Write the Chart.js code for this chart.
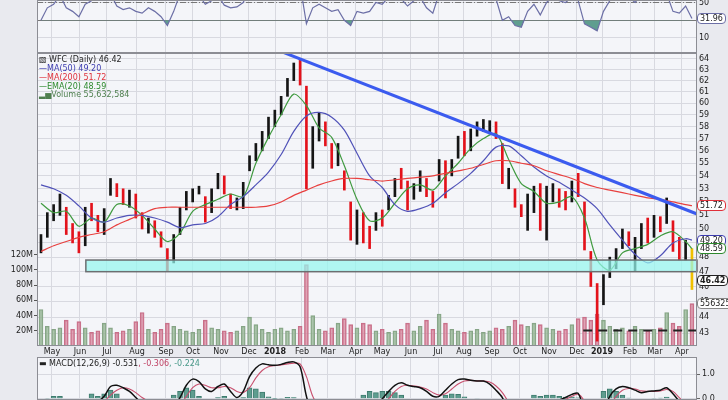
<!DOCTYPE html>
<html>
<head>
<meta charset="utf-8">
<script src="https://cdn.jsdelivr.net/npm/chart.js@4.4.1/dist/chart.umd.min.js"></script>
<style>
  body { margin: 0; width: 728px; height: 400px; overflow: hidden; position: relative;
         background: #e9eaef; font-family: "DejaVu Sans", sans-serif; }
  canvas { position: absolute; left: 0; }
  #rsi { top: 0; }
  #main { top: 53px; }
  #macd { top: 357px; }
  .tag { position: absolute; left: 697px; height: 9px; line-height: 9px; font-size: 8px;
         background: #fff; border: 1px solid #888; border-radius: 4px; padding: 0 2px;
         color: #222; white-space: nowrap; }
  .leg { position: absolute; left: 39px; font-size: 8px; line-height: 9px; white-space: nowrap; }
</style>
</head>
<body>
<canvas id="rsi" width="728" height="53"></canvas>
<canvas id="main" width="728" height="304"></canvas>
<canvas id="macd" width="728" height="43"></canvas>

<div class="leg" style="top:55px;color:#222">&#9639; WFC (Daily) 46.42</div>
<div class="leg" style="top:64px;color:#3c3cb0">&#8212;MA(50) 49.20</div>
<div class="leg" style="top:73px;color:#e0303a">&#8212;MA(200) 51.72</div>
<div class="leg" style="top:82px;color:#2d8a2d">&#8212;EMA(20) 48.59</div>
<div class="leg" style="top:90px;color:#4f7f4f">&#9602;&#9605;Volume 55,632,584</div>
<div class="leg" style="top:359px;color:#222">&#9644; MACD(12,26,9) -0.531<span style="color:#c04466">, -0.306</span><span style="color:#4a9a8a">, -0.224</span></div>

<script>
// --- Data (one entry per week, mid-Apr 2017 .. mid-Apr 2019) ---
const monthLabels = ["May", "Jun", "Jul", "Aug", "Sep", "Oct", "Nov", "Dec", "2018", "Feb", "Mar", "Apr",
  "May", "Jun", "Jul", "Aug", "Sep", "Oct", "Nov", "Dec", "2019", "Feb", "Mar", "Apr"];
const monthWeek = [1.74, 6.17, 10.44, 15.19, 19.78, 24.05, 28.48, 32.91, 37.03, 41.3, 45.41, 49.84,
  53.96, 58.54, 62.82, 66.93, 71.36, 75.79, 80.38, 84.81, 88.77, 93.2, 97.15, 101.42];

const hi = [49.6, 51.2, 51.8, 52.6, 51.6, 50.4, 49.8, 51.6, 51.9, 51.0,
  51.5, 53.8, 53.4, 53.0, 52.9, 52.6, 51.2, 50.8, 50.6, 49.8,
  48.6, 49.6, 51.6, 52.8, 53.0, 53.2, 52.4, 53.0, 54.2, 54.0,
  52.6, 52.3, 53.5, 55.6, 56.6, 57.6, 58.8, 59.4, 60.6, 62.2,
  63.6, 64.0, 61.5, 58.0, 59.2, 58.4, 56.6, 56.6, 54.4, 52.0,
  51.4, 51.2, 50.2, 51.2, 51.4, 52.5, 53.8, 54.6, 53.6, 53.4,
  54.4, 53.8, 52.8, 55.3, 55.2, 55.3, 57.2, 57.6, 57.8, 58.4,
  58.6, 58.5, 58.4, 56.6, 54.6, 53.0, 51.8, 52.6, 53.2, 53.4,
  53.2, 53.4, 53.0, 52.8, 53.6, 54.2, 52.0, 48.4, 46.2, 46.8,
  48.0, 48.6, 50.0, 49.8, 49.4, 50.4, 50.8, 51.0, 50.9, 52.3,
  50.6, 49.4, 49.2, 48.6];
const lo = [48.3, 49.4, 50.6, 51.0, 49.6, 49.0, 48.3, 48.8, 50.6, 49.8,
  49.6, 52.5, 52.4, 51.8, 51.6, 50.8, 50.0, 49.7, 49.4, 48.7,
  47.0, 47.6, 49.6, 51.4, 52.0, 52.6, 50.5, 51.2, 53.0, 52.6,
  51.5, 51.4, 51.5, 54.4, 55.2, 56.0, 57.0, 58.0, 59.0, 60.6,
  62.0, 61.6, 53.0, 54.6, 56.8, 56.4, 54.6, 54.8, 52.9, 49.2,
  48.9, 49.0, 48.6, 49.9, 50.2, 51.4, 52.4, 53.0, 51.4, 52.2,
  52.8, 52.4, 51.6, 53.6, 52.3, 54.0, 55.4, 55.6, 56.0, 57.2,
  57.6, 57.4, 57.0, 53.4, 53.0, 51.6, 50.9, 49.9, 51.2, 49.9,
  49.2, 52.0, 51.6, 51.4, 52.0, 52.4, 48.5, 46.0, 42.5, 44.8,
  46.6, 47.2, 48.6, 48.8, 47.0, 48.6, 49.0, 49.4, 49.8, 50.4,
  48.4, 47.8, 47.8, 45.8];
const cl = [49.4, 51.0, 51.2, 51.6, 50.0, 49.6, 48.8, 51.3, 51.0, 50.2,
  51.3, 53.2, 52.7, 52.2, 52.6, 51.0, 50.3, 50.4, 49.6, 48.9,
  47.4, 49.4, 51.4, 52.6, 52.7, 52.9, 51.0, 52.8, 54.0, 52.8,
  51.8, 52.0, 53.4, 55.4, 56.4, 57.2, 58.4, 58.6, 60.4, 62.0,
  63.0, 62.6, 55.0, 57.6, 57.8, 57.0, 55.0, 55.2, 53.4, 50.0,
  50.6, 49.6, 49.2, 50.8, 50.4, 52.2, 53.6, 53.2, 52.6, 53.0,
  53.8, 52.6, 52.2, 55.0, 54.6, 55.0, 57.0, 56.0, 57.6, 58.0,
  58.2, 58.3, 57.4, 54.0, 54.2, 52.0, 51.4, 52.4, 52.8, 51.0,
  52.4, 53.0, 52.2, 52.0, 53.4, 52.8, 48.8, 46.4, 43.6, 46.6,
  47.4, 48.4, 49.6, 49.0, 49.2, 50.0, 49.8, 50.6, 50.2, 50.6,
  48.6, 48.2, 48.8, 46.42];
// volume in millions
const vol = [48, 26, 22, 24, 34, 22, 32, 24, 18, 20,
  30, 24, 18, 20, 22, 32, 44, 22, 18, 22,
  30, 26, 22, 20, 18, 22, 34, 24, 22, 20,
  18, 20, 26, 38, 28, 22, 18, 22, 24, 20,
  22, 26, 107, 40, 22, 20, 24, 30, 36, 28,
  24, 30, 28, 20, 22, 18, 20, 22, 30, 20,
  26, 34, 22, 42, 30, 22, 20, 18, 20, 22,
  18, 20, 24, 22, 26, 34, 28, 26, 30, 28,
  24, 22, 20, 22, 28, 36, 38, 34, 42, 34,
  26, 22, 24, 20, 26, 22, 20, 22, 24, 44,
  30, 26, 48, 55.6];

// moving averages, sampled every second week plus the last week
const maWeeks = [0, 2, 4, 6, 8, 10, 12, 14, 16, 18, 20, 22, 24, 26, 28, 30, 32, 34, 36, 38, 40,
  42, 44, 46, 48, 50, 52, 54, 56, 58, 60, 62, 64, 66, 68, 70, 72, 74, 76, 78, 80,
  82, 84, 86, 88, 90, 92, 94, 96, 98, 100, 102, 103];
const ma200 = [48.4, 48.8, 49.1, 49.4, 49.6, 49.8, 50.3, 50.7, 51.1, 51.5, 51.6, 51.6, 51.6, 51.6,
  51.6, 51.6, 51.6, 51.6, 51.7, 52.0, 52.5, 52.9, 53.3, 53.6, 53.8, 53.8, 53.7, 53.6, 53.7,
  53.8, 53.9, 54.0, 54.2, 54.4, 54.6, 54.9, 55.2, 55.2, 55.0, 54.8, 54.4, 54.1, 53.8, 53.4,
  53.1, 52.9, 52.7, 52.5, 52.3, 52.2, 52.0, 51.8, 51.72];
const ma50 = [53.3, 53.0, 52.5, 51.7, 50.8, 50.5, 50.8, 51.0, 51.0, 50.8, 50.5, 50.1, 50.3, 50.4,
  50.9, 51.8, 52.4, 53.3, 54.3, 55.7, 57.6, 58.9, 59.2, 58.8, 57.7, 55.8, 54.0, 53.1, 51.8,
  51.3, 51.5, 51.9, 52.7, 53.4, 54.2, 55.2, 56.3, 56.4, 55.6, 54.7, 54.0, 53.5, 52.9, 52.3,
  51.5, 50.3, 49.2, 48.2, 47.6, 48.1, 49.0, 49.3, 49.2];
const ema20 = [51.9, 51.2, 51.3, 50.2, 50.8, 50.5, 51.8, 51.7, 51.0, 50.0, 49.1, 49.7, 51.3, 51.8,
  52.2, 52.6, 52.4, 55.0, 57.1, 59.0, 60.8, 59.8, 57.9, 57.1, 54.8, 52.2, 50.6, 50.8, 51.9,
  53.0, 53.3, 52.9, 54.0, 55.0, 56.2, 57.0, 57.4, 55.3, 53.4, 52.8, 51.9, 52.0, 52.4, 50.8,
  47.8, 47.1, 48.3, 48.6, 48.9, 49.5, 49.8, 49.1, 48.59];

const trendWeek = [37.0, 103.8];
const trendPrice = [64.9, 51.1];
const avgVolWeek = [85.8, 103.8];
const avgVol = [20.5, 20.5];
const zoneWeek = [7.1, 103.8];
const zonePrice = [47.0, 47.8];

const rsi = [30, 44, 48, 58, 44, 40, 34, 48, 52, 56,
  58, 60, 46, 42, 44, 40, 38, 44, 40, 34,
  24, 40, 60, 64, 62, 58, 48, 52, 58, 47,
  44, 45, 50, 66, 70, 72, 74, 72, 74, 76,
  76, 70, 26, 44, 48, 44, 40, 42, 30, 24,
  40, 38, 40, 50, 48, 56, 60, 54, 46, 52,
  56, 44, 38, 60, 56, 60, 66, 58, 64, 66,
  64, 62, 54, 30, 34, 24, 22, 40, 48, 36,
  50, 56, 52, 50, 56, 52, 26, 22, 18, 40,
  52, 58, 62, 56, 50, 58, 56, 60, 56, 60,
  40, 38, 46, 31.96];

const macd = [-0.3, -0.2, -0.1, -0.05, -0.2, -0.4, -0.6, -0.4, -0.1, -0.1,
  0.1, 0.5, 0.55, 0.45, 0.3, 0.05, -0.2, -0.3, -0.35, -0.5,
  -0.8, -0.3, 0.05, 0.55, 0.8, 0.7, 0.4, 0.3, 0.5, 0.6,
  0.3, 0.05, 0.3, 0.9, 1.25, 1.42, 1.38, 1.36, 1.4, 1.48,
  1.5, 1.3, 0.1, -0.6, -0.5, -0.5, -0.7, -0.7, -1.0, -1.4,
  -1.2, -0.9, -0.5, -0.3, 0.0, 0.3, 0.55, 0.65, 0.55, 0.5,
  0.45, 0.3, 0.1, 0.1, 0.35, 0.6, 0.78, 0.8, 0.75, 0.72,
  0.72, 0.6, 0.35, 0.05, -0.5, -1.0, -1.2, -1.0, -0.7, -0.6,
  -0.4, -0.2, -0.05, 0.05, 0.18, 0.22, -0.5, -1.2, -1.2, -0.5,
  0.1, 0.4, 0.5, 0.45, 0.35, 0.25, 0.3, 0.32, 0.35, 0.45,
  0.2, -0.1, -0.3, -0.531];
const signal = [-0.2, -0.22, -0.2, -0.15, -0.15, -0.22, -0.35, -0.4, -0.3, -0.2,
  -0.1, 0.15, 0.35, 0.45, 0.4, 0.25, 0.05, -0.1, -0.2, -0.3,
  -0.5, -0.45, -0.25, 0.1, 0.45, 0.6, 0.55, 0.45, 0.45, 0.5,
  0.45, 0.3, 0.25, 0.45, 0.85, 1.15, 1.3, 1.35, 1.38, 1.42,
  1.45, 1.42, 0.9, 0.1, -0.3, -0.45, -0.55, -0.62, -0.8, -1.1,
  -1.15, -1.05, -0.8, -0.55, -0.3, 0.0, 0.3, 0.5, 0.55, 0.52,
  0.48, 0.4, 0.25, 0.15, 0.2, 0.4, 0.6, 0.72, 0.75, 0.73,
  0.72, 0.68, 0.52, 0.25, -0.15, -0.6, -0.95, -1.0, -0.85, -0.7,
  -0.55, -0.35, -0.15, -0.02, 0.1, 0.18, -0.1, -0.7, -1.0, -0.8,
  -0.3, 0.1, 0.35, 0.42, 0.4, 0.32, 0.3, 0.3, 0.32, 0.38,
  0.3, 0.05, -0.2, -0.306];
const hist = [-0.1, 0.02, 0.1, 0.1, -0.05, -0.18, -0.25, 0.0, 0.2, 0.1,
  0.2, 0.35, 0.2, 0.0, -0.1, -0.2, -0.25, -0.2, -0.15, -0.2,
  -0.3, 0.15, 0.3, 0.45, 0.35, 0.1, -0.15, -0.15, 0.05, 0.1,
  -0.15, -0.25, 0.05, 0.45, 0.4, 0.27, 0.08, 0.01, 0.02, 0.06,
  0.05, -0.12, -0.8, -0.7, -0.2, -0.05, -0.15, -0.08, -0.2, -0.3,
  -0.05, 0.15, 0.3, 0.25, 0.3, 0.3, 0.25, 0.15, 0.0, -0.02,
  -0.03, -0.1, -0.15, -0.05, 0.15, 0.2, 0.18, 0.08, 0.0, -0.01,
  0.0, -0.08, -0.17, -0.2, -0.35, -0.4, -0.25, 0.0, 0.15, 0.1,
  0.15, 0.15, 0.1, 0.07, 0.08, 0.04, -0.4, -0.5, -0.2, 0.3,
  0.4, 0.3, 0.15, 0.03, -0.05, -0.07, 0.0, 0.02, 0.03, 0.07,
  -0.1, -0.15, -0.1, -0.224];

const priceTicks = [43, 44, 45, 46, 47, 48, 49, 50, 51, 52, 53, 54, 55, 56, 57, 58, 59, 60, 61, 62, 63, 64];
const volTicks = [20, 40, 60, 80, 100, 120];
const rsiTicks = [10, 50];
const macdTicks = [0, 0.5, 1, 1.5];

// --- Helpers ---
const W0 = -0.63, W1 = 103.8;
const font = { family: "'DejaVu Sans', sans-serif", size: 8 };
const gridColor = "#d8d9e0";
const weeks = cl.map((_, i) => i);
const pts = (xs, ys) => xs.map((x, i) => ({ x, y: ys[i] }));

function noPad(s) {
  s.paddingTop = 0; s.paddingBottom = 0; s.paddingLeft = 0; s.paddingRight = 0;
}

function xAxis(labels) {
  return {
    type: "linear", min: W0, max: W1, offset: false,
    afterBuildTicks: (s) => { s.ticks = monthWeek.map((v) => ({ value: v })); },
    afterFit: (s) => { s.height = labels ? 11 : 0; noPad(s); },
    grid: { color: gridColor, drawTicks: false, offset: false },
    border: { display: false },
    ticks: {
      display: labels, autoSkip: false, maxRotation: 0, minRotation: 0, padding: 1, color: "#222",
      font: (c) => ({ ...font, weight: /^\d{4}$/.test(monthLabels[c.index]) ? "bold" : "normal" }),
      callback: (v, i) => monthLabels[i],
    },
  };
}

function rightAxis(min, max, ticks, fmt, tickMarks, type) {
  return {
    type: type || "linear", position: "right", min, max,
    afterBuildTicks: (s) => { s.ticks = ticks.map((v) => ({ value: v })); },
    afterFit: (s) => { s.width = 31; noPad(s); },
    grid: { color: gridColor, drawTicks: tickMarks, tickLength: 3, tickColor: "#666" },
    border: { display: false },
    ticks: { color: "#222", font, padding: 2, callback: fmt },
  };
}

const frame = {
  id: "frame",
  beforeDraw(c) {
    const { ctx, chartArea: a } = c;
    ctx.save();
    ctx.fillStyle = "#f4f5f9";
    ctx.fillRect(a.left, a.top, a.width, a.height);
    ctx.restore();
  },
  afterDraw(c) {
    const { ctx, chartArea: a } = c;
    ctx.save();
    ctx.strokeStyle = "#8c8d94";
    ctx.lineWidth = 1;
    ctx.strokeRect(a.left + 0.5, a.top + 0.5, a.width - 1, a.height - 1);
    ctx.restore();
  },
};

const baseOpts = {
  responsive: false, animation: false, events: [],
  layout: { padding: 0 },
  plugins: { legend: { display: false }, tooltip: { enabled: false } },
};

// --- RSI panel ---
const rsiLines = {
  id: "rsiLines",
  beforeDatasetsDraw(c) {
    const { ctx, chartArea: a, scales } = c;
    const y30 = Math.round(scales.y.getPixelForValue(30)) + 0.5;
    const y50 = Math.round(scales.y.getPixelForValue(50)) + 0.5;
    ctx.save();
    ctx.strokeStyle = "#777";
    ctx.lineWidth = 1;
    ctx.beginPath(); ctx.moveTo(a.left, y30); ctx.lineTo(a.right, y30); ctx.stroke();
    ctx.setLineDash([6, 2, 1, 2]);
    ctx.beginPath(); ctx.moveTo(a.left, y50); ctx.lineTo(a.right, y50); ctx.stroke();
    ctx.restore();
  },
};

const rsiChart = new Chart(document.getElementById("rsi"), {
  type: "line",
  data: {
    datasets: [{
      data: pts(weeks, rsi), borderColor: "#6c6fa6", borderWidth: 1.2, pointRadius: 0,
      fill: { target: { value: 30 }, above: "rgba(0,0,0,0)", below: "#5f9e8f" },
    }],
  },
  options: {
    ...baseOpts,
    layout: { padding: { left: 37 } },
    scales: { x: xAxis(false), y: rightAxis(-6.9, 52.8, rsiTicks, (v) => String(v), false) },
  },
  plugins: [frame, rsiLines],
});

// --- Main price + volume panel ---
const priceColor = cl.map((c, i) =>
  i === cl.length - 1 ? "#f0c000" : i > 0 && c < cl[i - 1] ? "#e3121b" : "#151515");
const volFill = cl.map((c, i) => (i > 0 && c < cl[i - 1] ? "rgba(214,128,152,0.7)" : "rgba(150,182,148,0.75)"));
const volLine = cl.map((c, i) => (i > 0 && c < cl[i - 1] ? "#c76f88" : "#86a486"));

const zoneBox = {
  id: "zoneBox",
  afterDatasetsDraw(c) {
    const { ctx, chartArea: a, scales } = c;
    const x0 = scales.x.getPixelForValue(zoneWeek[0]);
    const x1 = Math.min(scales.x.getPixelForValue(zoneWeek[1]), a.right);
    const yTop = scales.y.getPixelForValue(zonePrice[1]);
    const yBot = scales.y.getPixelForValue(zonePrice[0]);
    ctx.save();
    ctx.fillStyle = "rgba(150,246,238,0.72)";
    ctx.fillRect(x0, yTop, x1 - x0, yBot - yTop);
    ctx.strokeStyle = "#6b6e70";
    ctx.lineWidth = 1.5;
    ctx.strokeRect(x0, yTop, x1 - x0, yBot - yTop);
    ctx.restore();
  },
};

const mainChart = new Chart(document.getElementById("main"), {
  type: "bar",
  data: {
    datasets: [
      { type: "line", data: pts(trendWeek, trendPrice), yAxisID: "y", borderColor: "#3b5bef",
        borderWidth: 3, pointRadius: 0, order: 0 },
      { type: "line", data: pts(avgVolWeek, avgVol), yAxisID: "v", borderColor: "#222",
        borderWidth: 2, borderDash: [9, 6], pointRadius: 0, order: 1 },
      { type: "line", data: pts(maWeeks, ma200), yAxisID: "y", borderColor: "#e8403f",
        borderWidth: 1.2, pointRadius: 0, tension: 0.3, order: 1 },
      { type: "line", data: pts(maWeeks, ma50), yAxisID: "y", borderColor: "#5052b8",
        borderWidth: 1.2, pointRadius: 0, tension: 0.3, order: 1 },
      { type: "line", data: pts(maWeeks, ema20), yAxisID: "y", borderColor: "#3f9a3f",
        borderWidth: 1.2, pointRadius: 0, tension: 0.3, order: 1 },
      { type: "bar", data: weeks.map((i) => ({ x: i, y: [lo[i], hi[i]] })), yAxisID: "y",
        backgroundColor: priceColor, barThickness: 2, grouped: false, order: 2 },
      { type: "bar", data: weeks.map((i) => ({ x: i, y: vol[i] })), yAxisID: "v",
        backgroundColor: volFill, borderColor: volLine, borderWidth: 1,
        barThickness: 4, grouped: false, order: 5 },
    ],
  },
  options: {
    ...baseOpts,
    scales: {
      x: xAxis(true),
      y: rightAxis(42.2, 64.53, priceTicks, (v) => String(v), false, "logarithmic"),
      v: {
        type: "linear", position: "left", min: 0, max: 385,
        afterBuildTicks: (s) => { s.ticks = volTicks.map((v) => ({ value: v })); },
        afterFit: (s) => { s.width = 37; noPad(s); },
        grid: { drawOnChartArea: false, drawTicks: true, tickLength: 3, tickColor: "#555" },
        border: { display: false },
        ticks: { color: "#222", font, padding: 1, callback: (v) => v + "M" },
      },
    },
  },
  plugins: [frame, zoneBox],
});

// --- MACD panel ---
const macdChart = new Chart(document.getElementById("macd"), {
  type: "bar",
  data: {
    datasets: [
      { type: "line", data: pts(weeks, macd), borderColor: "#111", borderWidth: 1.5,
        pointRadius: 0, tension: 0.3, order: 0 },
      { type: "line", data: pts(weeks, signal), borderColor: "#c8506e", borderWidth: 1.1,
        pointRadius: 0, tension: 0.3, order: 1 },
      { type: "bar", data: pts(weeks, hist), backgroundColor: "#5e9d8f", borderColor: "#3f7c6f",
        borderWidth: 1, barThickness: 5, order: 2 },
    ],
  },
  options: {
    ...baseOpts,
    layout: { padding: { left: 37 } },
    scales: { x: xAxis(false), y: rightAxis(-0.05, 1.7, macdTicks, (v) => v.toFixed(1), true) },
  },
  plugins: [frame],
});

// --- value tags on the right edge ---
function tag(text, y, color, bold) {
  const d = document.createElement("div");
  d.className = "tag";
  d.textContent = text;
  d.style.top = Math.round(y - 5.5) + "px";
  d.style.borderColor = color;
  if (bold) d.style.fontWeight = "bold";
  document.body.appendChild(d);
}
const py = (v) => mainChart.scales.y.getPixelForValue(v) + 53;
tag("31.96", rsiChart.scales.y.getPixelForValue(31.96), "#6c6fa6");
tag("51.72", py(51.72), "#e0303a");
tag("49.20", py(49.2), "#3c3cb0");
tag("48.59", py(48.59), "#2d8a2d");
tag("46.42", py(46.42), "#222", true);
tag("55632584", mainChart.scales.v.getPixelForValue(55.632584) + 53, "#888");
</script>
</body>
</html>
